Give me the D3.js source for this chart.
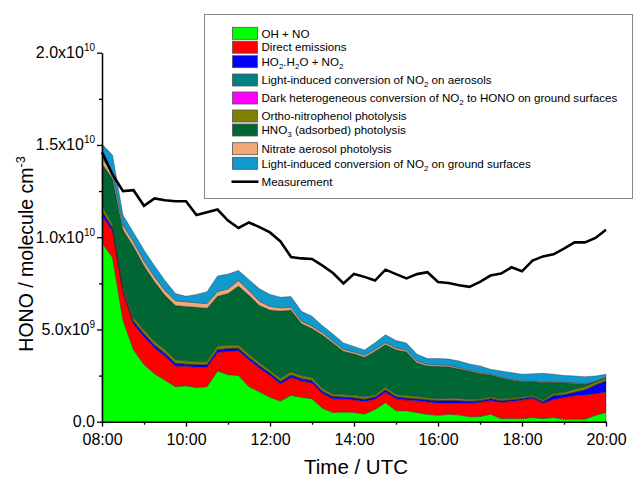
<!DOCTYPE html>
<html><head><meta charset="utf-8">
<script src="https://cdn.jsdelivr.net/npm/d3@7"></script>
<style>body{margin:0;background:#fff}svg{display:block;font-family:"Liberation Sans",Arial,sans-serif}</style>
</head><body><svg id="c" width="640" height="477"></svg>
<script>
// values in units of 1e9 molecule cm^-3, every 15 min from 08:00 to 20:00
const startTime = "08:00", endTime = "20:00", stepMinutes = 15;
const ohNo = [9.7,8.9,5.5,3.9,3.1,2.6,2.25,1.9,1.95,1.85,1.9,2.75,2.55,2.5,1.9,1.62,1.32,1.12,1.43,1.32,1.25,0.73,0.5,0.53,0.5,0.42,0.66,1.04,0.6,0.6,0.5,0.4,0.35,0.4,0.37,0.27,0.28,0.41,0.17,0.17,0.17,0.23,0.17,0.23,0.14,0.14,0.14,0.35,0.5];
const directEmis = [1.45,1.45,1.5,1.4,1.5,1.4,1.3,1.1,1.05,1.1,1.05,1.0,1.25,1.35,1.45,1.28,1.18,0.93,0.97,0.88,0.85,0.79,0.74,0.7,0.68,0.68,0.56,0.56,0.64,0.57,0.63,0.67,0.65,0.6,0.63,0.73,0.76,0.74,0.87,0.93,1.0,1.04,0.83,0.97,1.17,1.26,1.31,1.17,1.11];
const ho2h2o = [0.25,0.15,0.15,0.15,0.15,0.15,0.15,0.15,0.12,0.12,0.12,0.15,0.15,0.12,0.12,0.12,0.12,0.12,0.12,0.12,0.12,0.11,0.11,0.1,0.1,0.1,0.1,0.12,0.1,0.1,0.1,0.1,0.12,0.13,0.12,0.1,0.08,0.09,0.08,0.08,0.07,0.07,0.08,0.2,0.14,0.18,0.27,0.45,0.59];
const lightAerosol = [0.02,0.02,0.02,0.02,0.02,0.02,0.02,0.02,0.02,0.02,0.02,0.02,0.02,0.02,0.02,0.02,0.02,0.02,0.02,0.02,0.02,0.02,0.02,0.02,0.02,0.02,0.02,0.02,0.02,0.02,0.02,0.02,0.02,0.02,0.02,0.02,0.02,0.02,0.02,0.02,0.02,0.02,0.02,0.02,0.02,0.02,0.02,0.02,0.02];
const darkHet = [0.01,0.01,0.01,0.01,0.01,0.01,0.01,0.01,0.01,0.01,0.01,0.01,0.01,0.01,0.01,0.01,0.01,0.01,0.01,0.01,0.01,0.01,0.01,0.01,0.01,0.01,0.01,0.01,0.01,0.01,0.01,0.01,0.01,0.01,0.01,0.01,0.01,0.01,0.01,0.01,0.01,0.01,0.01,0.01,0.01,0.01,0.01,0.01,0.01];
const orthoNitro = [0.27,0.17,0.17,0.17,0.17,0.17,0.17,0.17,0.15,0.15,0.15,0.17,0.17,0.15,0.15,0.15,0.13,0.15,0.15,0.15,0.15,0.14,0.12,0.12,0.12,0.12,0.1,0.12,0.11,0.12,0.11,0.1,0.1,0.11,0.11,0.09,0.08,0.08,0.08,0.08,0.07,0.07,0.07,0.1,0.11,0.15,0.15,0.14,0.14];
const hno3 = [2.3,2.5,3.05,3.85,3.5,3.25,2.95,2.95,2.95,2.95,2.9,2.7,2.8,3.2,3.2,3.1,3.27,3.65,3.35,2.82,2.65,2.9,2.77,2.34,2.25,2.15,2.37,2.31,2.42,2.37,1.83,1.72,1.75,1.71,1.61,1.53,1.38,1.18,1.15,0.97,0.83,0.73,0.94,0.59,0.51,0.33,0.13,0.04,0.0];
const nitrateAer = [0.3,0.25,0.25,0.25,0.25,0.25,0.25,0.25,0.25,0.25,0.25,0.25,0.25,0.3,0.25,0.22,0.2,0.17,0.15,0.13,0.13,0.12,0.1,0.1,0.1,0.1,0.1,0.1,0.1,0.09,0.09,0.08,0.08,0.07,0.06,0.05,0.05,0.04,0.04,0.04,0.03,0.03,0.03,0.03,0.03,0.03,0.03,0.02,0.02];
const lightGround = [0.75,1.0,0.55,0.5,0.6,0.6,0.55,0.4,0.3,0.45,0.65,0.85,0.8,0.55,0.6,0.68,0.65,0.58,0.58,0.53,0.54,0.38,0.38,0.35,0.3,0.28,0.36,0.43,0.4,0.38,0.36,0.32,0.34,0.35,0.36,0.33,0.36,0.27,0.33,0.36,0.37,0.4,0.47,0.42,0.38,0.36,0.38,0.28,0.18];
const measurement = [14.6,13.4,12.5,12.55,11.7,12.1,12.0,11.95,11.95,11.2,11.35,11.5,10.9,10.5,10.8,10.55,10.26,9.77,8.93,8.85,8.82,8.46,8.06,7.49,8.01,7.85,7.65,8.24,8.0,7.77,8.0,8.1,7.57,7.52,7.4,7.31,7.58,7.92,8.03,8.37,8.15,8.73,8.96,9.07,9.38,9.72,9.72,9.96,10.4];
const unit = 1e9;
const yTickValues = [0, 5e9, 1e10, 1.5e10, 2e10];
const yTickLabels = [["0.0",""],["5.0x10","9"],["1.0x10","10"],["1.5x10","10"],["2.0x10","10"]];
const xTickLabels = ["08:00","10:00","12:00","14:00","16:00","18:00","20:00"];
const seriesNames = ["OH + NO","Direct emissions","HO_2.H_2O + NO_2","Light-induced conversion of NO_2 on aerosols","Dark heterogeneous conversion of NO_2 to HONO on ground surfaces","Ortho-nitrophenol photolysis","HNO_3 (adsorbed) photolysis","Nitrate aerosol photolysis","Light-induced conversion of NO_2 on ground surfaces"];
const seriesData = [ohNo,directEmis,ho2h2o,lightAerosol,darkHet,orthoNitro,hno3,nitrateAer,lightGround];
const colors = ["#00ff00","#ff0000","#0000ff","#008080","#ff00ff","#808000","#006633","#f2a877","#1199cc"];

const parse = d3.timeParse("%H:%M");
const t0 = parse(startTime), t1 = parse(endTime);
const times = d3.range(measurement.length).map(i => d3.timeMinute.offset(t0, i*stepMinutes));
const keys = seriesNames.map((n,i)=>"s"+i);
const rows = times.map((t,i)=>{const r={t}; seriesData.forEach((s,k)=>r[keys[k]]=s[i]*unit); return r;});

const svg = d3.select("#c");
const x = d3.scaleTime().domain([t0,t1]).range([102,606]);
const y = d3.scaleLinear().domain([0,2e10]).range([421.7,52.7]);

const stack = d3.stack().keys(keys)(rows);
const area = d3.area().x(d=>x(d.data.t)).y0(d=>y(d[0])).y1(d=>y(d[1]));
svg.append("g").selectAll("path").data(stack).join("path")
  .attr("d",area).attr("fill",(d,i)=>colors[i])
  .attr("stroke","#222").attr("stroke-width",0.5).attr("stroke-opacity",0.7);

const line = d3.line().x((d,i)=>x(times[i])).y(d=>y(d*unit));
svg.append("path").datum(measurement).attr("d",line).attr("fill","none")
  .attr("stroke","#000").attr("stroke-width",2.6).attr("stroke-linejoin","miter");

// axes
const gy = svg.append("g").attr("transform","translate(102,0)")
  .call(d3.axisLeft(y).tickValues(yTickValues).tickSize(5).tickSizeOuter(0).tickFormat(""));
svg.append("g").attr("transform","translate(102,0)")
  .call(d3.axisLeft(y).tickValues([2.5e9,7.5e9,1.25e10,1.75e10]).tickSize(3).tickSizeOuter(0).tickFormat(""))
  .call(g=>g.select(".domain").remove());
gy.selectAll(".tick text").remove();
yTickValues.forEach((v,i)=>{
  const t = svg.append("text").attr("x",95).attr("y",y(v)+5.5).attr("text-anchor","end")
    .attr("font-size",16).attr("fill","#000");
  t.append("tspan").text(yTickLabels[i][0]);
  if (yTickLabels[i][1]) t.append("tspan").attr("font-size",10).attr("dy",-7).text(yTickLabels[i][1]);
});
const xMajor = xTickLabels.map(s=>parse(s));
const gx = svg.append("g").attr("transform","translate(0,421.7)")
  .call(d3.axisBottom(x).tickValues(xMajor).tickSize(5).tickSizeOuter(0).tickPadding(7).tickFormat((d,i)=>xTickLabels[i]));
svg.append("g").attr("transform","translate(0,421.7)")
  .call(d3.axisBottom(x).tickValues(d3.timeHour.range(d3.timeHour.offset(t0,1),t1,2)).tickSize(3).tickSizeOuter(0).tickFormat(""))
  .call(g=>g.select(".domain").remove());
gx.selectAll(".tick text").attr("font-size",16).attr("font-family","Liberation Sans, Arial, sans-serif").attr("fill","#000");
svg.selectAll(".domain").attr("stroke","#000").attr("stroke-width",1.5);
svg.selectAll(".tick line").attr("stroke","#000").attr("stroke-width",1.3);

// axis titles
svg.append("text").attr("x",356).attr("y",474).attr("text-anchor","middle").attr("font-size",20.5).text("Time / UTC");
const yt = svg.append("text").attr("transform","translate(33,254) rotate(-90)").attr("text-anchor","middle").attr("font-size",19.5);
yt.append("tspan").text("HONO / molecule cm");
yt.append("tspan").attr("font-size",12.5).attr("dy",-8).text("-3");

// legend
svg.append("rect").attr("x",204.5).attr("y",14.5).attr("width",428).attr("height",184)
  .attr("fill","#fff").attr("stroke","#888").attr("stroke-width",1);
const rowY = [33.3,47.2,61.7,80,98,116,130,148.7,163.3,181.7];
function richText(sel, str){
  let shift = 0;
  str.split(/(_\d)/).forEach(p=>{
    if(!p) return;
    if(p[0]==="_") { sel.append("tspan").attr("font-size",8).attr("dy",3-shift).text(p.slice(1)); shift = 3; }
    else { sel.append("tspan").attr("dy",-shift).text(p); shift = 0; }
  });
}
seriesNames.forEach((n,i)=>{
  svg.append("rect").attr("x",232.5).attr("y",rowY[i]-6).attr("width",25).attr("height",12)
    .attr("fill",colors[i]).attr("stroke","#555").attr("stroke-width",0.8);
  const t = svg.append("text").attr("x",261.5).attr("y",rowY[i]+4.2).attr("font-size",11.6).attr("fill","#000");
  richText(t,n);
});
svg.append("line").attr("x1",231.5).attr("x2",258.5).attr("y1",rowY[9]).attr("y2",rowY[9]).attr("stroke","#000").attr("stroke-width",2.6);
svg.append("text").attr("x",261.5).attr("y",rowY[9]+4.2).attr("font-size",11.6).text("Measurement");
</script></body></html>
